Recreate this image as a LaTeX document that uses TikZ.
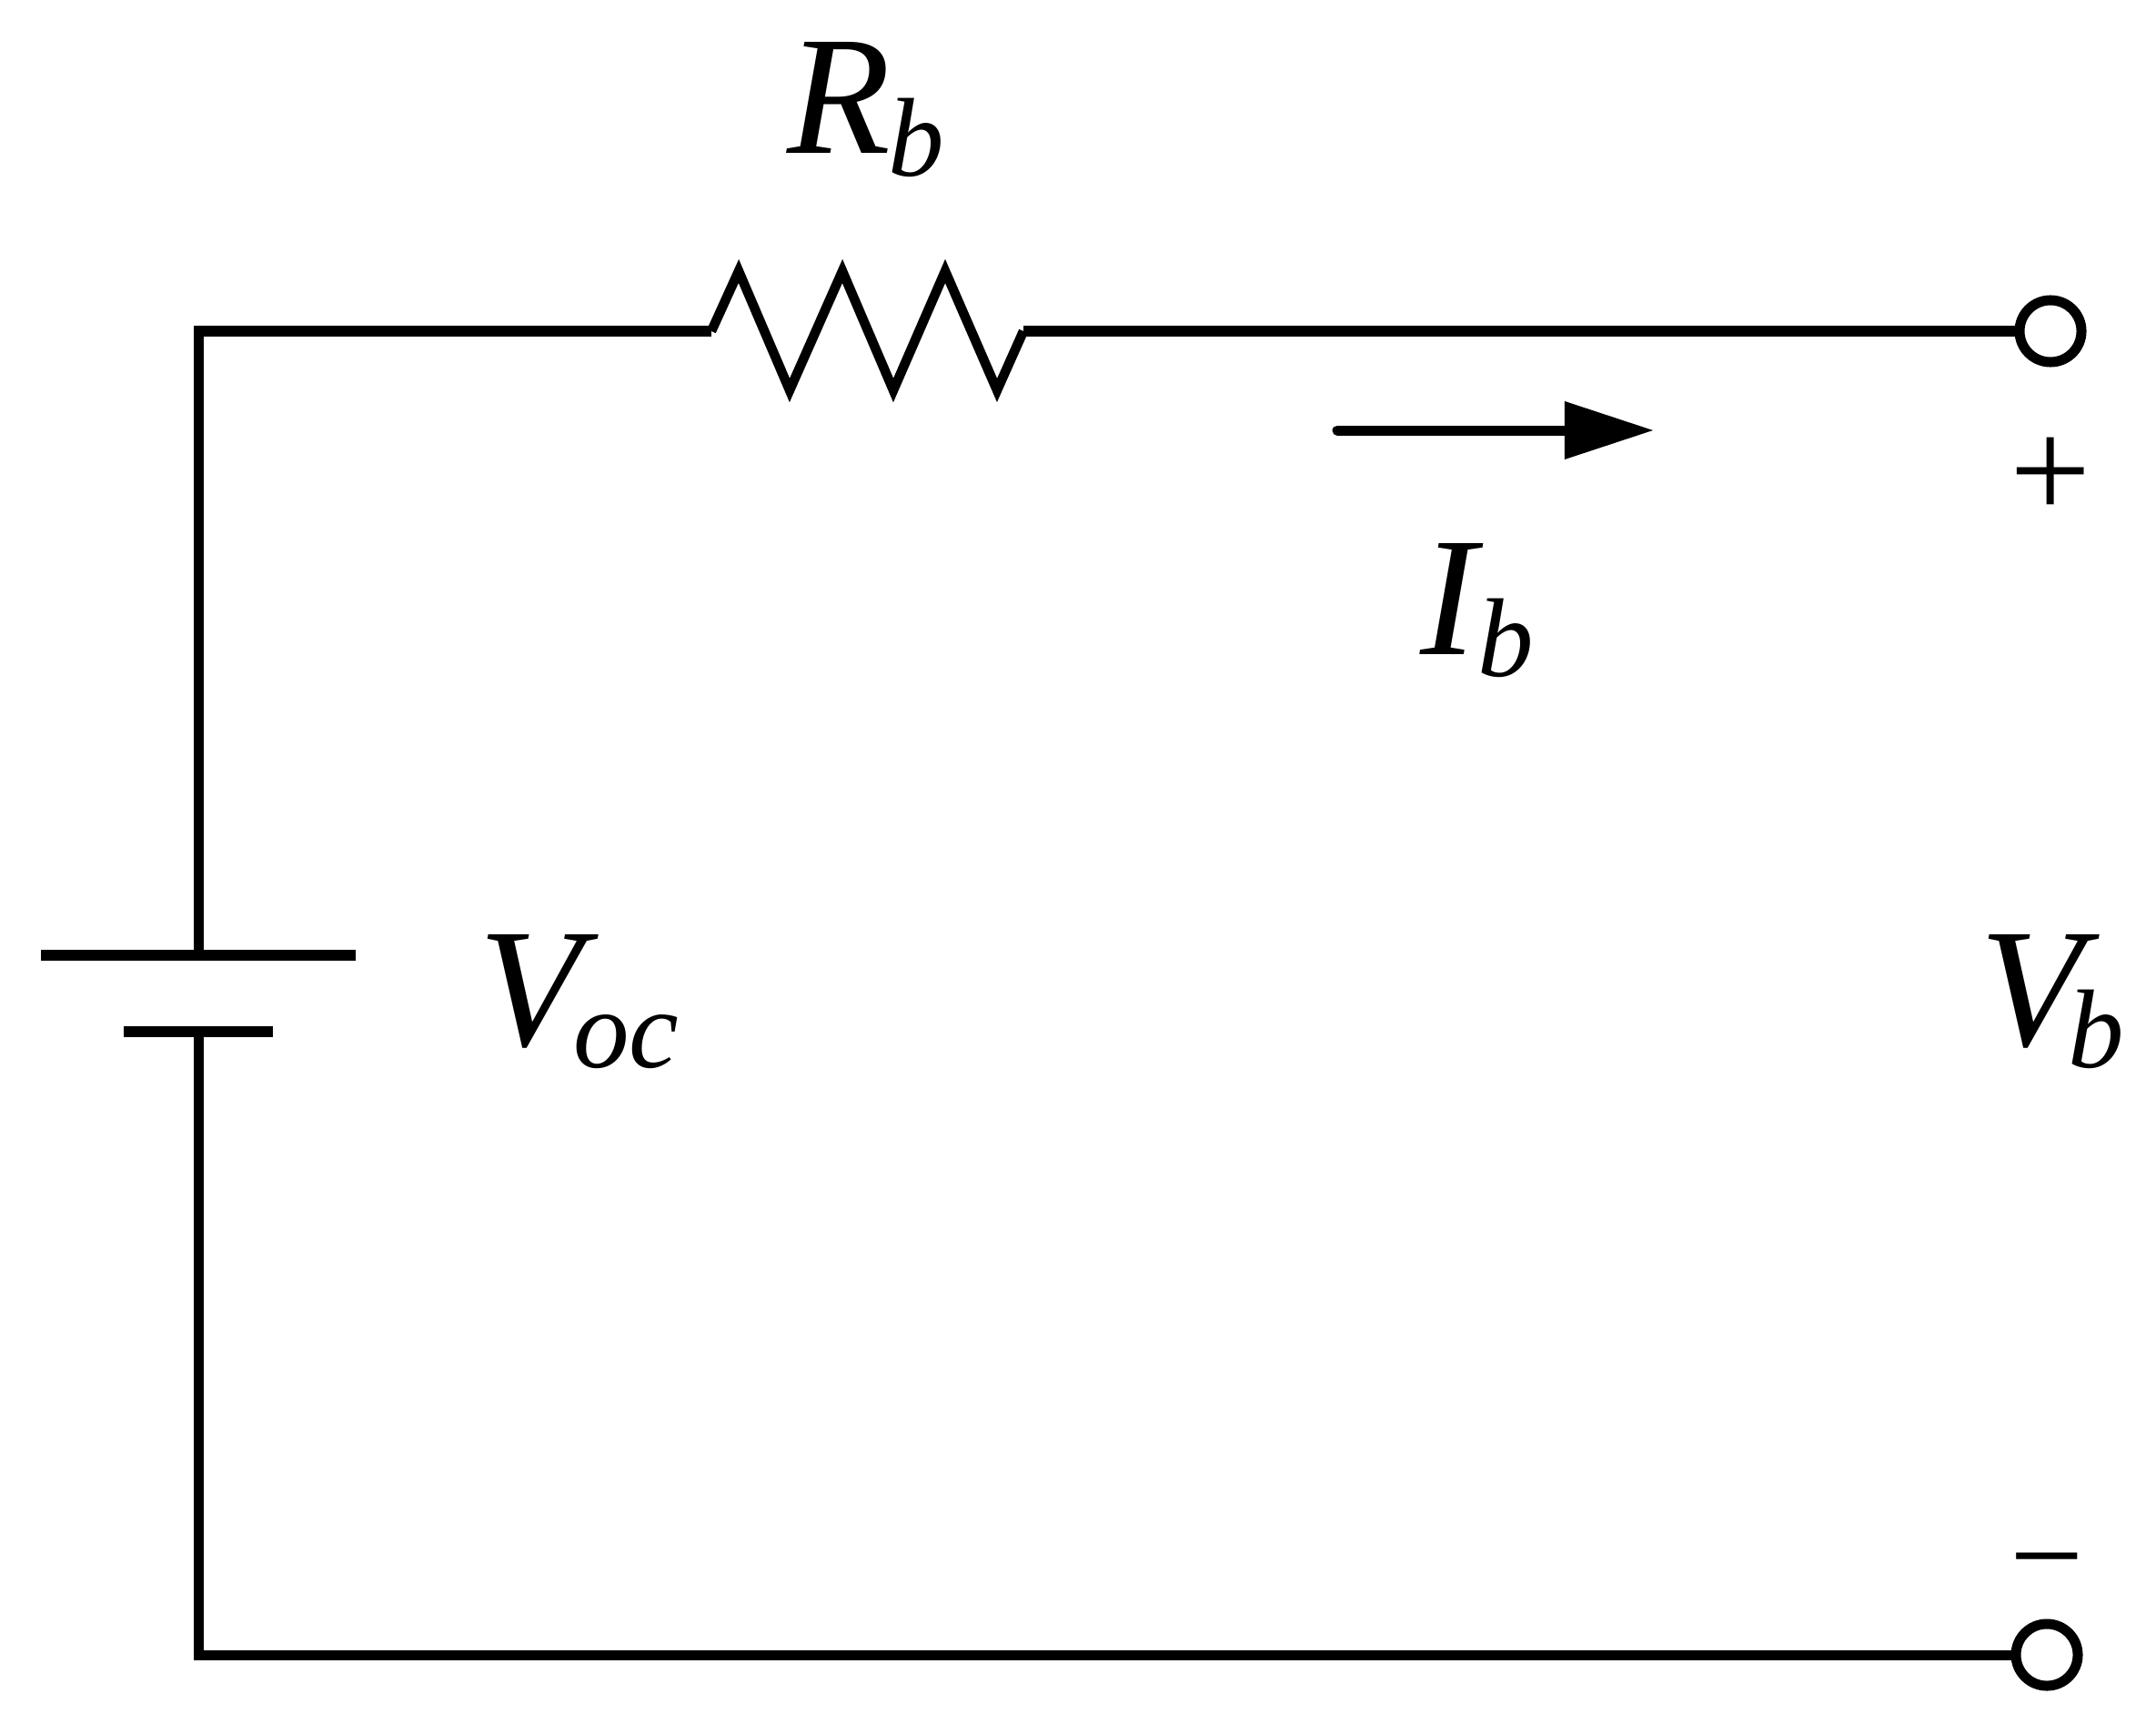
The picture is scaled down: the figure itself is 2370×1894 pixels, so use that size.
\documentclass[tikz,border=0pt]{standalone}
\usepackage{fontspec}
\setmainfont{Liberation Serif}
\usetikzlibrary{arrows.meta,positioning}
\newcommand{\symb}[3]{\fontsize{53}{53}\selectfont\textit{#1}\kern#3\raisebox{-7pt}{\fontsize{35}{35}\selectfont\textit{#2}}}
\begin{document}
\begin{tikzpicture}[x=0.01cm,y=-0.01cm,
    wire/.style={line width=0.11cm},
    zigzag/.style={line width=0.105cm,miter limit=10},
    terminal/.style={circle,draw,line width=0.11cm,fill=white,inner sep=0pt,minimum size=0.68cm},
    plate/.style={rectangle,fill=black,inner sep=0pt,minimum height=0.12cm},
    symbol/.style={anchor=base west,inner sep=0pt},
    sign/.style={anchor=base,inner sep=0pt}]

    \useasboundingbox (0,0) rectangle (2370,1894);

    \node[plate,minimum width=3.46cm] (vplus) at (218,1050) {};
    \node[plate,minimum width=1.63cm] (vminus) at (218,1133.5) {};
    \node[terminal] (tp) at (2254,364) {};
    \node[terminal] (tm) at (2250,1819) {};
    \coordinate (rl) at (782,364);
    \coordinate (rr) at (1125,364);
    \coordinate (is) at (1470,473);
    \coordinate (ie) at (1817,473);

    \draw[wire] (vplus.center) |- (rl);
    \draw[wire] (rr) -- (tp);
    \draw[wire] (vminus.center) |- (tm);
    \draw[zigzag] (rl) -- (812,298) -- (868,429) -- (926,298) -- (982,429)
                       -- (1039,298) -- (1096,429) -- (rr);
    \draw[wire,line cap=round,-{Triangle[length=0.97cm,width=0.64cm,line width=0pt,sharp]}] (is) -- (ie);

    \node[symbol] (rb) at (865,169) {\symb{R}{b}{-1pt}};
    \node[symbol] (ib) at (1561,719) {\symb{I}{b}{-2pt}};
    \node[symbol] (voc) at (526,1149) {\symb{V}{oc}{-8pt}};
    \node[symbol] (vb) at (2176,1149) {\symb{V}{b}{-10pt}};

    \node[sign,font=\fontsize{45}{45}\selectfont] (psign) at (2254,570) {+};
    \node[sign,font=\fontsize{41}{41}\selectfont] (msign) at (2250,1758) {\symbol{"2212}};

\end{tikzpicture}
\end{document}
